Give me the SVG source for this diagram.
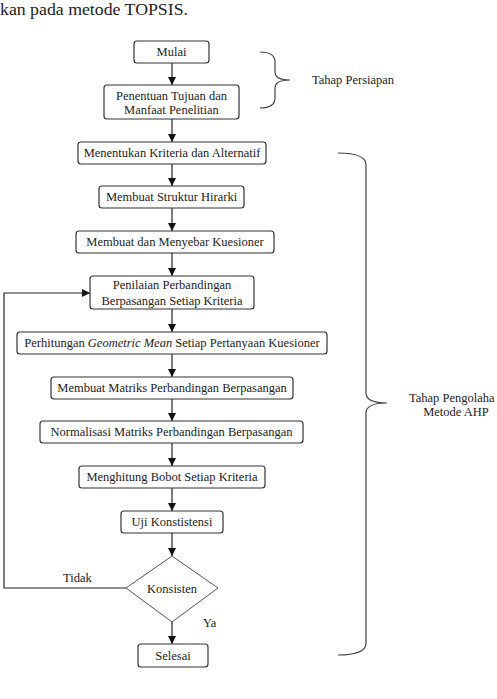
<svg xmlns="http://www.w3.org/2000/svg" width="497" height="699" viewBox="0 0 497 699" font-family="'Liberation Serif', 'Times New Roman', serif">
  <style>
    text { font-family: 'Liberation Serif', 'Times New Roman', serif; fill: #222; }
    .lbl { font-size: 12.5px; text-anchor: middle; }
    .side { font-size: 12.5px; }
    .box { fill: #fff; stroke: #333; stroke-width: 1.2; }
    .wire { fill: none; stroke: #222; stroke-width: 1.2; }
    .brace { fill: none; stroke: #444; stroke-width: 1.2; }
  </style>
  <defs>
    <marker id="arrow" viewBox="0 0 10 10" refX="10" refY="5" markerWidth="8" markerHeight="8" markerUnits="userSpaceOnUse" orient="auto">
      <path d="M0,0 L10,5 L0,10 Z" fill="#111"/>
    </marker>
  </defs>

  <rect width="497" height="699" fill="#fff"/>

  <!-- trailing sentence from the preceding paragraph -->
  <text x="0" y="15" font-size="16" textLength="188" lengthAdjust="spacingAndGlyphs">kan pada metode TOPSIS.</text>

  <!-- connectors -->
  <g id="connectors">
    <line class="wire" x1="172" y1="63" x2="172" y2="85" marker-end="url(#arrow)"/>
    <line class="wire" x1="172" y1="119" x2="172" y2="142" marker-end="url(#arrow)"/>
    <line class="wire" x1="172" y1="164" x2="172" y2="186" marker-end="url(#arrow)"/>
    <line class="wire" x1="172" y1="208" x2="172" y2="231" marker-end="url(#arrow)"/>
    <line class="wire" x1="172" y1="253" x2="172" y2="276" marker-end="url(#arrow)"/>
    <line class="wire" x1="172" y1="309" x2="172" y2="332" marker-end="url(#arrow)"/>
    <line class="wire" x1="172" y1="354" x2="172" y2="377" marker-end="url(#arrow)"/>
    <line class="wire" x1="172" y1="399" x2="172" y2="421" marker-end="url(#arrow)"/>
    <line class="wire" x1="172" y1="443" x2="172" y2="466" marker-end="url(#arrow)"/>
    <line class="wire" x1="172" y1="488" x2="172" y2="511" marker-end="url(#arrow)"/>
    <line class="wire" x1="172" y1="533" x2="172" y2="556" marker-end="url(#arrow)"/>
    <line class="wire" x1="172" y1="622" x2="172" y2="644" marker-end="url(#arrow)"/>
    <!-- "Tidak" loop back to the pairwise comparison step -->
    <polyline class="wire" points="126,588 4,588 4,293 90,293" marker-end="url(#arrow)"/>
  </g>

  <!-- stage braces -->
  <g id="brace-persiapan">
    <path class="brace" d="M260,52 Q275,52 275,62 L275,72 Q275,80 290,80 Q275,80 275,88 L275,98 Q275,108 260,108"/>
    <text class="side" x="312" y="84">Tahap Persiapan</text>
  </g>
  <g id="brace-ahp">
    <path class="brace" d="M338,153 Q366,153 366,165 L366,393 Q366,403 387,403 Q366,403 366,413 L366,643 Q366,655 338,655"/>
    <text class="side" x="409" y="402">Tahap Pengolaha</text>
    <text class="lbl" x="456" y="416">Metode AHP</text>
  </g>

  <!-- process steps -->
  <g id="mulai">
    <rect class="box" x="134" y="41" width="75" height="22" rx="3"/>
    <text class="lbl" x="171.5" y="56">Mulai</text>
  </g>
  <g id="penentuan-tujuan">
    <rect class="box" x="104" y="85" width="135" height="34" rx="3"/>
    <text class="lbl" x="171.5" y="100">Penentuan Tujuan dan</text>
    <text class="lbl" x="171.5" y="114">Manfaat Penelitian</text>
  </g>
  <g id="kriteria-alternatif">
    <rect class="box" x="78" y="142" width="188" height="22" rx="3"/>
    <text class="lbl" x="172" y="157">Menentukan Kriteria dan Alternatif</text>
  </g>
  <g id="struktur-hirarki">
    <rect class="box" x="99" y="186" width="145" height="22" rx="3"/>
    <text class="lbl" x="171.5" y="201">Membuat Struktur Hirarki</text>
  </g>
  <g id="kuesioner">
    <rect class="box" x="76" y="231" width="198" height="22" rx="3"/>
    <text class="lbl" x="175" y="246">Membuat dan Menyebar Kuesioner</text>
  </g>
  <g id="penilaian">
    <rect class="box" x="90" y="276" width="164" height="33" rx="3"/>
    <text class="lbl" x="172" y="289">Penilaian Perbandingan</text>
    <text class="lbl" x="172" y="305">Berpasangan Setiap Kriteria</text>
  </g>
  <g id="geometric-mean">
    <rect class="box" x="17" y="332" width="310" height="22" rx="3"/>
    <text class="lbl" x="172" y="347">Perhitungan <tspan font-style="italic">Geometric Mean</tspan> Setiap Pertanyaan Kuesioner</text>
  </g>
  <g id="matriks">
    <rect class="box" x="51" y="377" width="242" height="22" rx="3"/>
    <text class="lbl" x="172" y="392">Membuat Matriks Perbandingan Berpasangan</text>
  </g>
  <g id="normalisasi">
    <rect class="box" x="40" y="421" width="263" height="22" rx="3"/>
    <text class="lbl" x="171.5" y="436">Normalisasi Matriks Perbandingan Berpasangan</text>
  </g>
  <g id="bobot">
    <rect class="box" x="79" y="466" width="186" height="22" rx="3"/>
    <text class="lbl" x="172" y="481">Menghitung Bobot Setiap Kriteria</text>
  </g>
  <g id="uji-konsistensi">
    <rect class="box" x="121" y="511" width="102" height="22" rx="3"/>
    <text class="lbl" x="172" y="526">Uji Konstistensi</text>
  </g>
  <g id="konsisten">
    <polygon points="172,556 218,588 172,622 126,588" fill="#fff" stroke="#555" stroke-width="1"/>
    <text class="lbl" x="172" y="593">Konsisten</text>
    <text class="side" x="63" y="582">Tidak</text>
    <text class="side" x="203" y="627">Ya</text>
  </g>
  <g id="selesai">
    <rect class="box" x="138" y="644" width="70" height="23" rx="3"/>
    <text class="lbl" x="173" y="660">Selesai</text>
  </g>
</svg>
